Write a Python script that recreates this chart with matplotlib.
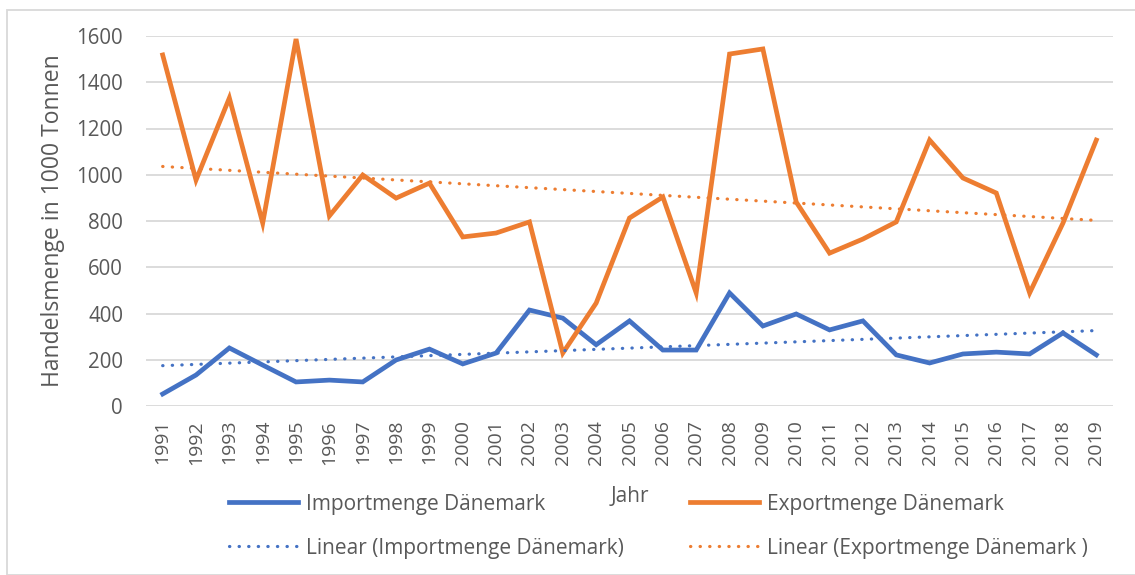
import numpy as np
import matplotlib.pyplot as plt
from matplotlib.patches import Rectangle
from matplotlib.lines import Line2D

years = list(range(1991, 2020))
import_values = [52, 134, 251, 177, 104, 112, 104, 199, 246, 182, 229, 415, 380, 265,
                 368, 242, 242, 489, 346, 398, 329, 368, 221, 186, 225, 233, 225, 316, 221]
export_values = [1518, 977, 1332, 791, 1587, 822, 999, 899, 964, 731, 748, 796, 229, 445,
                 813, 904, 489, 1522, 1544, 882, 661, 722, 796, 1150, 986, 921, 489, 791, 1150]

blue = '#4472C4'
orange = '#ED7D31'
text_col = '#595959'

plt.rcParams['font.family'] = ['Open Sans', 'DejaVu Sans']

fig = plt.figure(figsize=(11.35, 5.75), dpi=100)
ax = fig.add_axes([146 / 1135, 1 - 406 / 575, (1113 - 146) / 1135, (406 - 36) / 575])

x = np.arange(len(years))

# linear trend lines (like Excel's "Linear" trendline)
imp_fit = np.polyfit(x, import_values, 1)
exp_fit = np.polyfit(x, export_values, 1)

ax.plot(x, import_values, color=blue, lw=3.4, solid_joinstyle='miter', zorder=3)
ax.plot(x, export_values, color=orange, lw=3.4, solid_joinstyle='miter', zorder=3)
dot = (0, (0.1, 2.9))
ax.plot(x, np.polyval(imp_fit, x), color=blue, lw=2.3, ls=dot, dash_capstyle='round', zorder=4)
ax.plot(x, np.polyval(exp_fit, x), color=orange, lw=2.3, ls=dot, dash_capstyle='round', zorder=4)

ax.set_xlim(-0.5, len(years) - 0.5)
ax.set_ylim(0, 1600)
ax.set_yticks(range(0, 1601, 200))
ax.set_xticks(x)
ax.set_xticklabels([str(y) for y in years], rotation=90)
ax.grid(axis='y', color='#D9D9D9', lw=1.3)
ax.set_axisbelow(True)
for s in ax.spines.values():
    s.set_visible(False)
ax.tick_params(axis='both', length=0, labelcolor=text_col)
ax.tick_params(axis='x', pad=10, labelsize=14)
ax.tick_params(axis='y', pad=16.5, labelsize=14.8)
ax.set_ylabel('Handelsmenge in 1000 Tonnen', fontsize=16.5, color=text_col, labelpad=8)

fig.text(630 / 1135, 1 - 497 / 575, 'Jahr', fontsize=15, color=text_col, ha='center', va='center')

handles = [
    Line2D([], [], color=blue, lw=3.4),
    Line2D([], [], color=blue, lw=2.3, ls=dot, dash_capstyle='round'),
    Line2D([], [], color=orange, lw=3.4),
    Line2D([], [], color=orange, lw=2.3, ls=dot, dash_capstyle='round'),
]
labels = ['Importmenge Dänemark', 'Linear (Importmenge Dänemark)',
          'Exportmenge Dänemark', 'Linear (Exportmenge Dänemark )']
leg = fig.legend(handles, labels, ncol=2, frameon=False, fontsize=15,
                 loc='upper left', bbox_to_anchor=(210 / 1135, 1 - 475 / 575),
                 handlelength=3.3, handletextpad=0.4, columnspacing=3.2, labelspacing=1.1)
for t in leg.get_texts():
    t.set_color(text_col)

fig.patches.append(Rectangle((7 / 1135, 0), 1.1, 1 - 10 / 575, transform=fig.transFigure,
                             fill=False, edgecolor='#D9D9D9', lw=1.3))

fig.savefig('out.png', dpi=100)
